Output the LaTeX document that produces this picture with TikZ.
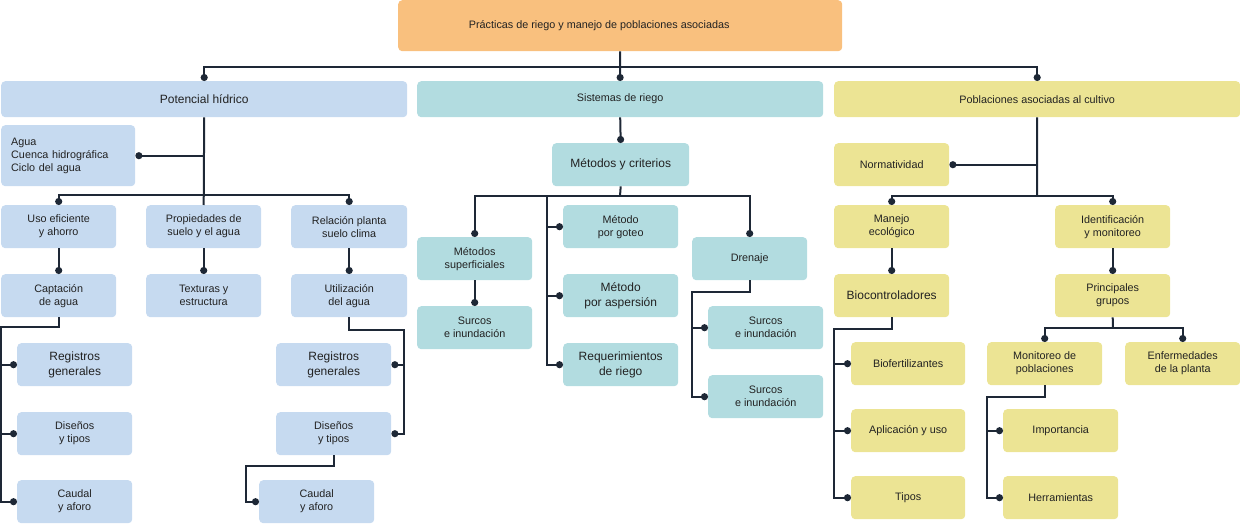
\documentclass[tikz,border=0pt]{standalone}
\usepackage{fontspec}
\setmainfont{Liberation Sans}
\usetikzlibrary{arrows.meta}
\definecolor{azul}{RGB}{198,218,240}
\definecolor{verde}{RGB}{178,220,224}
\definecolor{amarillo}{RGB}{236,228,148}
\definecolor{naranja}{RGB}{249,192,126}
\definecolor{trazo}{RGB}{30,40,54}
\definecolor{texto}{RGB}{34,34,34}
\tikzset{
  caja/.style={rounded corners=4pt, anchor=north west, align=center, inner sep=0pt,
    minimum width=115pt, minimum height=43pt, text=texto, font=\fontsize{10.8}{13}\selectfont},
  grande/.style={font=\fontsize{12}{15}\selectfont},
  cazul/.style={caja, fill=azul},
  cverde/.style={caja, fill=verde},
  camarilla/.style={caja, fill=amarillo},
  ancha/.style={minimum width=406pt, minimum height=36pt},
  linea/.style={draw=trazo, line width=2pt},
  enlace/.style={linea, -{Circle[length=7pt, width=7pt]}},
}
\begin{document}
\begin{tikzpicture}[x=1pt,y=-1pt]
  \useasboundingbox (0,0) rectangle (1240,524);
  % titulo y primer nivel
  \node[caja, fill=naranja, minimum width=444pt, minimum height=51pt, font=\fontsize{10.8}{13}\selectfont] (raiz) at (398,0) {\hspace*{-42pt}Prácticas de riego y manejo de poblaciones asociadas};
  \node[cazul, ancha, grande] (pot) at (1,81) {Potencial hídrico};
  \node[cverde, ancha] (sis) at (417,81) {Sistemas de riego};
  \node[camarilla, ancha] (pob) at (834,81) {Poblaciones asociadas al cultivo};
  \coordinate (raizbus) at (620,67);
  \draw[linea] (raiz.south) -- (raizbus);
  \draw[enlace] (raizbus) -| (pot.north);
  \draw[enlace] (raizbus) -- (sis.north);
  \draw[enlace] (raizbus) -| (pob.north);

  % potencial hidrico
  \node[cazul, minimum width=134pt, minimum height=61pt, align=left, text width=114pt, inner xsep=10pt] (agua) at (1,125) {Agua\\Cuenca hidrográfica\\Ciclo del agua};
  \node[cazul] (uso) at (1,205) {Uso eficiente\\y ahorro};
  \node[cazul] (prop) at (146,205) {Propiedades de\\suelo y el agua};
  \node[cazul, minimum width=116pt] (rel) at (291,205) {Relación planta\\suelo clima};
  \node[cazul] (capt) at (1,274) {Captación\\de agua};
  \node[cazul] (text) at (146,274) {Texturas y\\estructura};
  \node[cazul, minimum width=116pt] (util) at (291,274) {Utilización\\del agua};
  \node[cazul, grande] (reg1) at (17,343) {Registros\\generales};
  \node[cazul] (dis1) at (17,412) {Diseños\\y tipos};
  \node[cazul] (cau1) at (17,480) {Caudal\\y aforo};
  \node[cazul, grande] (reg2) at (276,343) {Registros\\generales};
  \node[cazul] (dis2) at (276,412) {Diseños\\y tipos};
  \node[cazul] (cau2) at (259,480) {Caudal\\y aforo};
  \coordinate (potbus) at (203,195);
  \coordinate (captL) at (1,327);
  \coordinate (utilR) at (404,330);
  \coordinate (disL) at (246,466);
  \draw[linea] (pot.south) -- (prop.north);
  \draw[enlace] (pot.south |- agua.east) -- (agua.east);
  \draw[enlace] (potbus) -| (uso.north);
  \draw[enlace] (potbus) -| (rel.north);
  \draw[enlace] (uso.south) -- (capt.north);
  \draw[enlace] (prop.south) -- (text.north);
  \draw[enlace] (rel.south) -- (util.north);
  \draw[enlace] (capt.south) |- (captL) |- (reg1.west);
  \draw[enlace] (captL) |- (dis1.west);
  \draw[enlace] (captL) |- (cau1.west);
  \draw[enlace] (util.south) |- (utilR) |- (reg2.east);
  \draw[enlace] (utilR) |- (dis2.east);
  \draw[enlace] (dis2.south) |- (disL) |- (cau2.west);

  % sistemas de riego
  \node[cverde, minimum width=137pt, grande] (met) at (552,143) {Métodos y criterios};
  \node[cverde] (sup) at (417,237) {Métodos\\superficiales};
  \node[cverde] (sur1) at (417,306) {Surcos\\e inundación};
  \node[cverde] (got) at (563,205) {Método\\por goteo};
  \node[cverde, grande] (asp) at (563,274) {Método\\por aspersión};
  \node[cverde, grande] (req) at (563,343) {Requerimientos\\de riego};
  \node[cverde] (dren) at (692,237) {Drenaje};
  \node[cverde] (sur2) at (708,306) {Surcos\\e inundación};
  \node[cverde] (sur3) at (708,375) {Surcos\\e inundación};
  \coordinate (metbus) at (620,196);
  \coordinate (metV) at (547,196);
  \coordinate (drenL) at (692,292);
  \draw[enlace] (sis.south) -- (met.north);
  \draw[linea] (met.south) -- (metbus);
  \draw[enlace] (metbus) -| (sup.north);
  \draw[enlace] (metbus) -| (dren.north);
  \draw[enlace] (metV) |- (got.west);
  \draw[enlace] (metV) |- (asp.west);
  \draw[enlace] (metV) |- (req.west);
  \draw[enlace] (sup.south) -- (sur1.north);
  \draw[enlace] (dren.south) |- (drenL) |- (sur2.west);
  \draw[enlace] (drenL) |- (sur3.west);

  % poblaciones asociadas
  \node[camarilla] (norm) at (834,143) {Normatividad};
  \node[camarilla] (man) at (834,205) {Manejo\\ecológico};
  \node[camarilla] (ide) at (1055,205) {Identificación\\y monitoreo};
  \node[camarilla, grande] (bio) at (834,274) {Biocontroladores};
  \node[camarilla] (pri) at (1055,274) {Principales\\grupos};
  \node[camarilla, minimum width=114pt] (biof) at (851,342) {Biofertilizantes};
  \node[camarilla, minimum width=114pt] (apl) at (851,409) {Aplicación y uso};
  \node[camarilla, minimum width=114pt] (tip) at (851,476) {Tipos};
  \node[camarilla] (mon) at (987,342) {Monitoreo de\\poblaciones};
  \node[camarilla] (enf) at (1125,342) {Enfermedades\\de la planta};
  \node[camarilla] (imp) at (1003,409) {Importancia};
  \node[camarilla] (her) at (1003,476) {Herramientas};
  \coordinate (pobbus) at (1037,196);
  \coordinate (bioL) at (834,329);
  \coordinate (pribus) at (1113,328);
  \coordinate (monL) at (987,397);
  \draw[linea] (pob.south) -- (pobbus);
  \draw[enlace] (pob.south |- norm.east) -- (norm.east);
  \draw[enlace] (pobbus) -| (man.north);
  \draw[enlace] (pobbus) -| (ide.north);
  \draw[enlace] (man.south) -- (bio.north);
  \draw[enlace] (ide.south) -- (pri.north);
  \draw[enlace] (bio.south) |- (bioL) |- (biof.west);
  \draw[enlace] (bioL) |- (apl.west);
  \draw[enlace] (bioL) |- (tip.west);
  \draw[linea] (pri.south) -- (pribus);
  \draw[enlace] (pribus) -| (mon.north);
  \draw[enlace] (pribus) -| (enf.north);
  \draw[enlace] (mon.south) |- (monL) |- (imp.west);
  \draw[enlace] (monL) |- (her.west);
\end{tikzpicture}
\end{document}
